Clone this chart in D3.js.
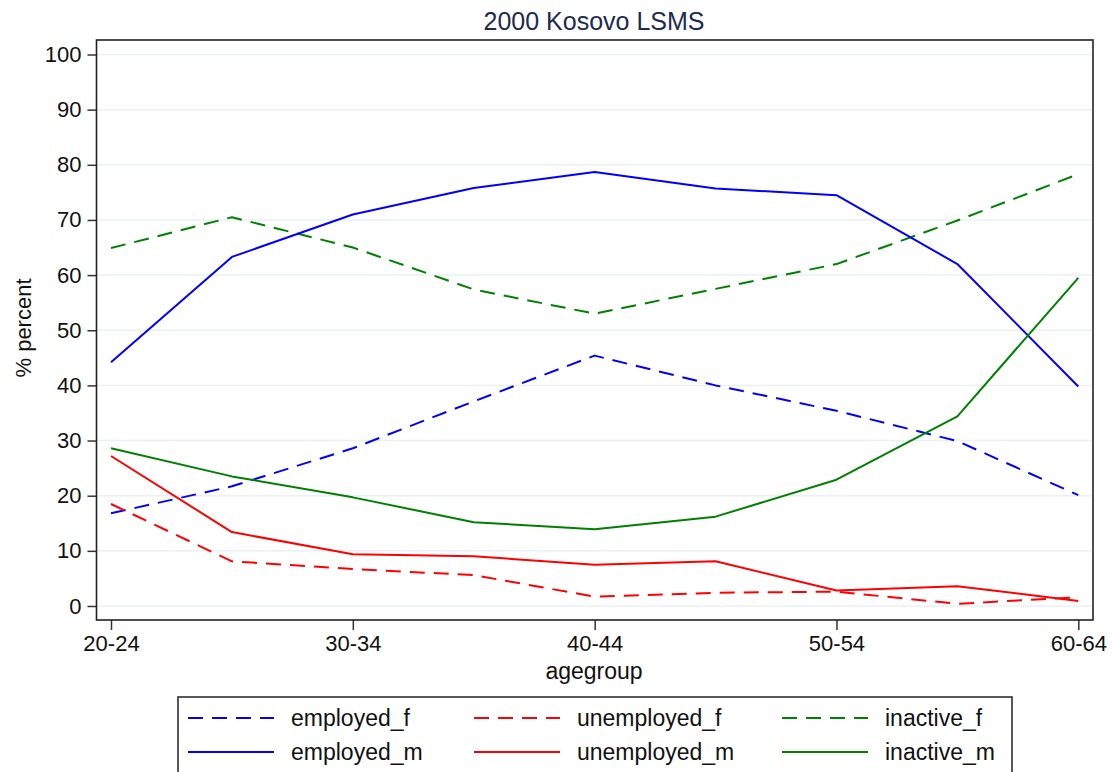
<!DOCTYPE html>
<html>
<head>
<meta charset="utf-8">
<script src="https://cdn.jsdelivr.net/npm/d3@7"></script>
<style>
  html, body { margin: 0; padding: 0; background: #fff; }
  svg { display: block; }
  text { font-family: "Liberation Sans", Arial, Helvetica, sans-serif; }
</style>
</head>
<body>
<svg id="chart" width="1116" height="772"></svg>
<script>
const categories = ["20-24","25-29","30-34","35-39","40-44","45-49","50-54","55-59","60-64"];
const tickLabels = ["20-24","30-34","40-44","50-54","60-64"];
const yTicks = [0,10,20,30,40,50,60,70,80,90,100];

const employed_f   = [16.8, 21.7, 28.6, 37.1, 45.4, 40.0, 35.4, 29.9, 20.1];
const employed_m   = [44.2, 63.3, 71.0, 75.8, 78.7, 75.7, 74.5, 62.0, 39.8];
const unemployed_f = [18.5, 8.1, 6.7, 5.6, 1.7, 2.4, 2.6, 0.4, 1.6];
const unemployed_m = [27.2, 13.4, 9.4, 9.0, 7.5, 8.1, 2.8, 3.6, 0.9];
const inactive_f   = [64.9, 70.5, 65.0, 57.4, 53.0, 57.5, 62.0, 69.9, 78.3];
const inactive_m   = [28.6, 23.5, 19.7, 15.2, 13.9, 16.2, 22.9, 34.4, 59.5];

const seriesNames = ["employed_f","unemployed_f","inactive_f","employed_m","unemployed_m","inactive_m"];
const seriesData = {employed_f, unemployed_f, inactive_f, employed_m, unemployed_m, inactive_m};
const seriesColor = {employed_f:"#0000ff", employed_m:"#0000ff", unemployed_f:"#ff0000", unemployed_m:"#ff0000", inactive_f:"#008000", inactive_m:"#008000"};
const seriesDashed = {employed_f:true, unemployed_f:true, inactive_f:true, employed_m:false, unemployed_m:false, inactive_m:false};

const svg = d3.select("#chart");
const frame = {left: 96.5, right: 1093, top: 40, bottom: 620};

const x = d3.scalePoint().domain(categories).range([111, 1078.3]);
const y = d3.scaleLinear().domain([0, 100]).range([606, 54.5]);

// gridlines
svg.append("g").selectAll("line").data(yTicks).join("line")
  .attr("x1", frame.left).attr("x2", frame.right)
  .attr("y1", d => y(d)).attr("y2", d => y(d))
  .attr("stroke", "#eaf0f3").attr("stroke-width", 1.5);

// y axis
const yAxis = d3.axisLeft(y).tickValues(yTicks).tickSize(9).tickPadding(6);
const gy = svg.append("g").attr("transform", `translate(${frame.left},0)`).call(yAxis);
gy.select(".domain").remove();
gy.selectAll(".tick line").attr("stroke", "#333").attr("stroke-width", 1.5);
gy.selectAll(".tick text").attr("font-size", 22).attr("fill", "#111")
  .attr("font-family", "'Liberation Sans', Arial, sans-serif");

// x axis
const xAxis = d3.axisBottom(x).tickValues(tickLabels).tickSize(10).tickPadding(5);
const gx = svg.append("g").attr("transform", `translate(0,${frame.bottom})`).call(xAxis);
gx.select(".domain").remove();
gx.selectAll(".tick line").attr("stroke", "#333").attr("stroke-width", 1.5);
gx.selectAll(".tick text").attr("font-size", 22).attr("fill", "#111")
  .attr("font-family", "'Liberation Sans', Arial, sans-serif");

// frame
svg.append("rect")
  .attr("x", frame.left).attr("y", frame.top)
  .attr("width", frame.right - frame.left).attr("height", frame.bottom - frame.top)
  .attr("fill", "none").attr("stroke", "#222").attr("stroke-width", 1.6);

// lines
const line = d3.line().x((d, i) => x(categories[i])).y(d => y(d));
seriesNames.forEach(name => {
  svg.append("path")
    .datum(seriesData[name])
    .attr("d", line)
    .attr("fill", "none")
    .attr("stroke", seriesColor[name])
    .attr("stroke-width", 2)
    .attr("stroke-linejoin", "round")
    .attr("stroke-dasharray", seriesDashed[name] ? "15,9" : null);
});

// title
svg.append("text").attr("x", 594).attr("y", 30).attr("text-anchor", "middle")
  .attr("font-size", 25).attr("fill", "#1c2b4f").text("2000 Kosovo LSMS");

// axis titles
svg.append("text").attr("x", 594).attr("y", 679).attr("text-anchor", "middle")
  .attr("font-size", 23).attr("fill", "#111").text("agegroup");
svg.append("text").attr("transform", "translate(31,328) rotate(-90)").attr("text-anchor", "middle")
  .attr("font-size", 22).attr("fill", "#111").text("% percent");

// legend
const lg = svg.append("g");
lg.append("rect").attr("x", 178).attr("y", 697).attr("width", 834).attr("height", 90)
  .attr("fill", "#fff").attr("stroke", "#222").attr("stroke-width", 1.5);
const colX = [188, 474, 782];
const rowY = [718, 752];
seriesNames.forEach((name, i) => {
  const col = i % 3, row = Math.floor(i / 3);
  const lx = colX[col], ly = rowY[row];
  lg.append("line").attr("x1", lx).attr("x2", lx + 86).attr("y1", ly).attr("y2", ly)
    .attr("stroke", seriesColor[name]).attr("stroke-width", 2)
    .attr("stroke-dasharray", seriesDashed[name] ? "15,9" : null);
  lg.append("text").attr("x", lx + 103).attr("y", ly + 8)
    .attr("font-size", 23).attr("fill", "#111").text(name);
});
</script>
</body>
</html>
